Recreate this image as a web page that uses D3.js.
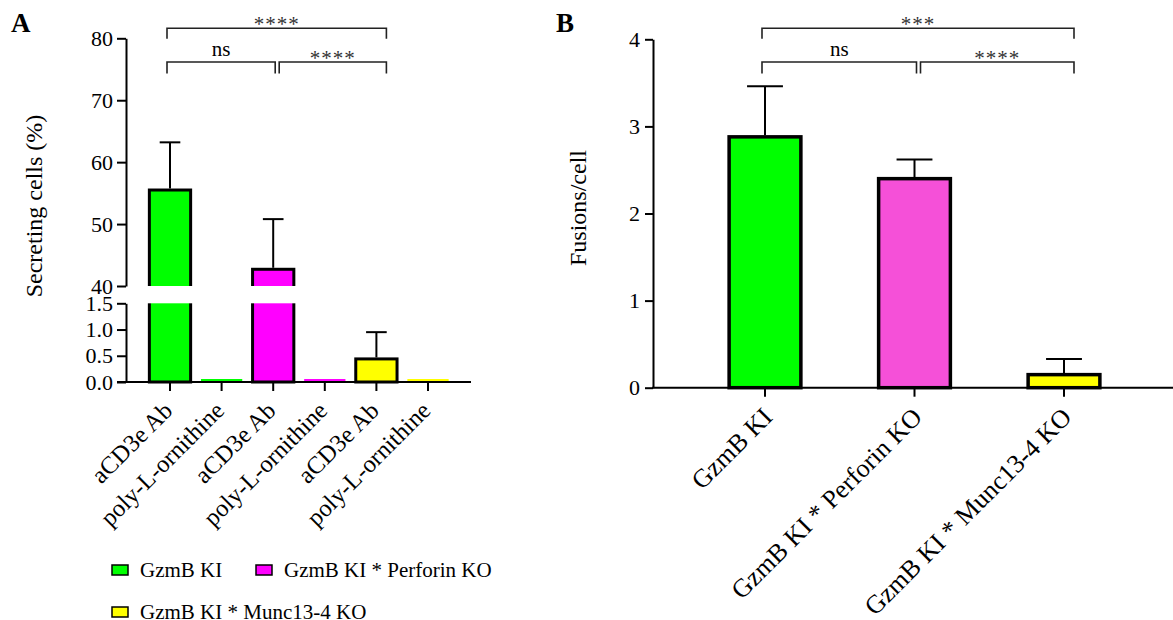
<!DOCTYPE html>
<html>
<head>
<meta charset="utf-8">
<script src="https://cdn.jsdelivr.net/npm/d3@7"></script>
<style>
  body { margin: 0; background: #fff; }
  svg { display: block; font-family: "Liberation Serif", "Times New Roman", serif; }
  .axis path, .axis line { stroke: #000; stroke-width: 2px; }
  .axis text { font-size: 22px; fill: #000; font-family: "Liberation Serif", serif; }
</style>
</head>
<body>
<svg width="1173" height="620"></svg>
<script>
// panel A
var catsA = ["aCD3e Ab", "poly-L-ornithine", "aCD3e Ab", "poly-L-ornithine", "aCD3e Ab", "poly-L-ornithine"];
var meansA = [55.5, 0, 42.7, 0, 0.44, 0];
var errA = [7.7, 0, 8.1, 0, 0.51, 0];
var groupOfA = [0, 0, 1, 1, 2, 2];
var ticksTopA = [40, 50, 60, 70, 80];
var ticksBotA = [0, 0.5, 1.0, 1.5];

// panel B
var groups = ["GzmB KI", "GzmB KI * Perforin KO", "GzmB KI * Munc13-4 KO"];
var meansB = [2.88, 2.40, 0.15];
var errB = [0.58, 0.22, 0.18];
var ticksB = [0, 1, 2, 3, 4];

var colorsA = ["#00ff00", "#ff00ff", "#ffff00"];
var colorsB = ["#00ff00", "#f550d8", "#ffff00"];

var sigA = [
  {from: 0, to: 4, level: 0, label: "****"},
  {from: 0, to: 2, level: 1, label: "ns"},
  {from: 2, to: 4, level: 1, label: "****"}
];
var sigB = [
  {from: 0, to: 2, level: 0, label: "***"},
  {from: 0, to: 1, level: 1, label: "ns"},
  {from: 1, to: 2, level: 1, label: "****"}
];

var svg = d3.select("svg");

// ---------- panel A ----------
var xA = d3.scaleBand().domain(d3.range(catsA.length))
    .range([144.2, 453.8]).paddingInner(0.2).paddingOuter(0.1);
var yTop = d3.scaleLinear().domain([40, 80]).range([286, 38.3]);
var yBot = d3.scaleLinear().domain([0, 1.5]).range([382, 303.3]);
function yA(v) { return v > 1.5 ? yTop(v) : yBot(v); }

var gA = svg.append("g");

gA.selectAll("rect.bar")
    .data(meansA)
  .enter().append("rect")
    .attr("class", "bar")
    .attr("x", function(d, i) { return xA(i); })
    .attr("width", xA.bandwidth())
    .attr("y", function(d) { return d > 0 ? yA(d) : yBot(0) - 3; })
    .attr("height", function(d) { return d > 0 ? yBot(0) - yA(d) : 2; })
    .attr("fill", function(d, i) { return colorsA[groupOfA[i]]; })
    .attr("stroke", function(d) { return d > 0 ? "#000" : "none"; })
    .attr("stroke-width", 3);

// error bars (upper only)
meansA.forEach(function(d, i) {
  if (!errA[i]) return;
  var cx = xA(i) + xA.bandwidth() / 2, w = xA.bandwidth() / 4;
  gA.append("line").attr("x1", cx).attr("x2", cx)
      .attr("y1", yA(d) - 1.5).attr("y2", yA(d + errA[i]))
      .attr("stroke", "#000").attr("stroke-width", 2);
  gA.append("line").attr("x1", cx - w).attr("x2", cx + w)
      .attr("y1", yA(d + errA[i])).attr("y2", yA(d + errA[i]))
      .attr("stroke", "#000").attr("stroke-width", 2);
});

// axis break gap
gA.append("rect")
    .attr("x", 127).attr("width", 350)
    .attr("y", yTop(40)).attr("height", yBot(1.5) - yTop(40))
    .attr("fill", "#fff");

gA.append("g").attr("class", "axis")
    .attr("transform", "translate(126,0)")
    .call(d3.axisLeft(yTop).tickValues(ticksTopA).tickSize(9).tickPadding(4).tickSizeOuter(0));
gA.append("g").attr("class", "axis")
    .attr("transform", "translate(126,0)")
    .call(d3.axisLeft(yBot).tickValues(ticksBotA).tickFormat(d3.format(".1f")).tickSize(9).tickPadding(4).tickSizeOuter(0));

var xAxisA = gA.append("g").attr("class", "axis")
    .attr("transform", "translate(0," + yBot(0) + ")")
    .call(d3.axisBottom(xA).tickFormat(function(i) { return catsA[i]; }).tickSize(9).tickSizeOuter(0));
xAxisA.select(".domain").attr("d", "M117,0H471");
xAxisA.selectAll("text")
    .style("font-size", "24.5px")
    .attr("text-anchor", "end")
    .attr("dy", 0)
    .attr("transform", "translate(4,30) rotate(-45)")
    .attr("x", 0).attr("y", 0);

gA.append("text")
    .attr("transform", "translate(42,206) rotate(-90)")
    .attr("text-anchor", "middle")
    .style("font-size", "24px")
    .text("Secreting cells (%)");

gA.append("text")
    .attr("x", 11).attr("y", 32)
    .style("font-size", "27px").style("font-weight", "bold")
    .text("A");

// legend
var legA = gA.selectAll("g.leg")
    .data(groups)
  .enter().append("g")
    .attr("class", "leg")
    .attr("transform", function(d, i) { return i == 2 ? "translate(112,607)" : "translate(" + (112 + i * 144) + ",565)"; });
legA.append("rect")
    .attr("width", 16).attr("height", 10)
    .attr("fill", function(d, i) { return colorsA[i]; })
    .attr("stroke", "#000").attr("stroke-width", 1.5);
legA.append("text")
    .attr("x", 28).attr("y", 12)
    .style("font-size", "21px")
    .text(function(d) { return d; });

// ---------- panel B ----------
var xB = d3.scaleBand().domain(d3.range(groups.length))
    .range([690.25, 1138.75]).paddingInner(0.52).paddingOuter(0.26);
var yB = d3.scaleLinear().domain([0, 4]).range([387.7, 39.3]);

var gB = svg.append("g");

gB.selectAll("rect.bar")
    .data(meansB)
  .enter().append("rect")
    .attr("class", "bar")
    .attr("x", function(d, i) { return xB(i); })
    .attr("width", xB.bandwidth())
    .attr("y", function(d) { return yB(d); })
    .attr("height", function(d) { return yB(0) - yB(d); })
    .attr("fill", function(d, i) { return colorsB[i]; })
    .attr("stroke", "#000")
    .attr("stroke-width", 3.5);

meansB.forEach(function(d, i) {
  var cx = xB(i) + xB.bandwidth() / 2, w = xB.bandwidth() / 4;
  gB.append("line").attr("x1", cx).attr("x2", cx)
      .attr("y1", yB(d) - 1.5).attr("y2", yB(d + errB[i]))
      .attr("stroke", "#000").attr("stroke-width", 2);
  gB.append("line").attr("x1", cx - w).attr("x2", cx + w)
      .attr("y1", yB(d + errB[i])).attr("y2", yB(d + errB[i]))
      .attr("stroke", "#000").attr("stroke-width", 2);
});

gB.append("g").attr("class", "axis")
    .attr("transform", "translate(653,0)")
    .call(d3.axisLeft(yB).tickValues(ticksB).tickFormat(d3.format("d")).tickSize(8).tickPadding(5).tickSizeOuter(0));

var xAxisB = gB.append("g").attr("class", "axis")
    .attr("transform", "translate(0," + yB(0) + ")")
    .call(d3.axisBottom(xB).tickFormat(function(i) { return groups[i]; }).tickSize(9).tickSizeOuter(0));
xAxisB.select(".domain").attr("d", "M652,0H1173");
xAxisB.selectAll("text")
    .style("font-size", "26px")
    .attr("text-anchor", "end")
    .attr("dy", 0)
    .attr("transform", "translate(9,31) rotate(-45)")
    .attr("x", 0).attr("y", 0);

gB.append("text")
    .attr("transform", "translate(586,208) rotate(-90)")
    .attr("text-anchor", "middle")
    .style("font-size", "24px")
    .text("Fusions/cell");

gB.append("text")
    .attr("x", 556).attr("y", 32)
    .style("font-size", "27px").style("font-weight", "bold")
    .text("B");

// ---------- significance brackets ----------
function brackets(g, sig, x) {
  var cx = function(i) { return x(i) + x.bandwidth() / 2; };
  var last = d3.max(sig, function(s) { return s.to; });
  sig.forEach(function(s) {
    var shared = sig.some(function(o) { return o !== s && o.level == s.level && o.to == s.from; });
    var x1 = cx(s.from) + (shared ? 6 : -3);
    var x2 = cx(s.to) + (s.to == last ? 10 : 2);
    var yl = s.level == 0 ? 28.3 : 62;
    var drop = s.level == 0 ? 10.5 : 11.5;
    g.append("path")
        .attr("d", "M" + x1 + "," + (yl + drop) + "V" + yl + "H" + x2 + "V" + (yl + drop))
        .attr("fill", "none").attr("stroke", "#222").attr("stroke-width", 1.6);
    var ns = s.label == "ns";
    g.append("text")
        .attr("x", (x1 + x2) / 2)
        .attr("y", ns ? yl - 6 : yl + 3)
        .attr("text-anchor", "middle")
        .attr("fill", ns ? "#000" : "#333")
        .style("font-size", "21px")
        .style("letter-spacing", ns ? "0px" : "1px")
        .text(s.label);
  });
}
brackets(gA, sigA, xA);
brackets(gB, sigB, xB);
</script>
</body>
</html>
